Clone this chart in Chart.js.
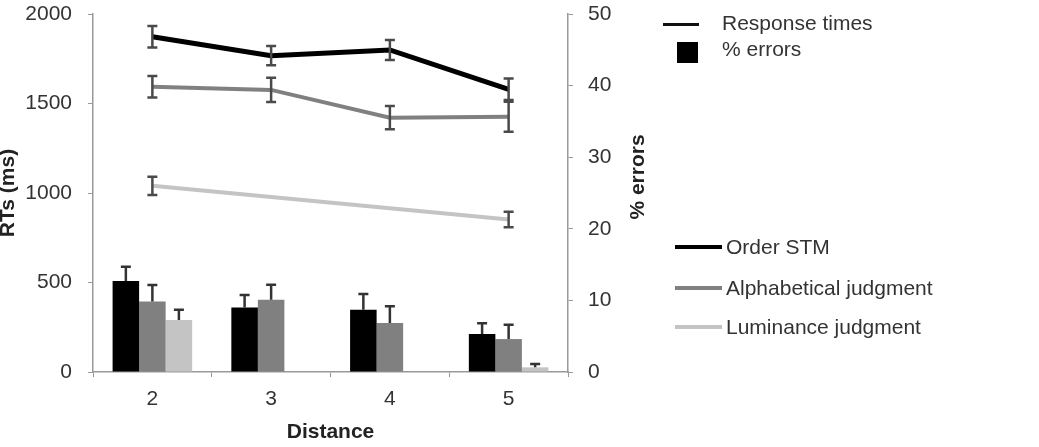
<!DOCTYPE html>
<html>
<head>
<meta charset="utf-8">
<script src="https://cdn.jsdelivr.net/npm/chart.js@4.4.1/dist/chart.umd.min.js"></script>
<style>
  body { margin: 0; background: #fff; }
  #wrap { position: relative; width: 1039px; height: 447px; font-family: "Liberation Sans", Arial, sans-serif; color: #333; }
  #grafico { position: absolute; left: 0; top: 0; }
  .txt { position: absolute; font-size: 21px; line-height: 24px; white-space: nowrap; }
  .muestra { position: absolute; }
  #tituloDer { position: absolute; left: 637px; top: 177px; font-size: 21px; font-weight: bold; color: #222;
               transform: translate(-50%, -50%) rotate(-90deg); white-space: nowrap; }
</style>
</head>
<body>
<div id="wrap">
  <canvas id="grafico" width="1039" height="447"></canvas>
  <div id="tituloDer">% errors</div>

  <div class="muestra" style="left:663px; top:23px; width:36px; height:3px; background:#111;"></div>
  <div class="txt" style="left:722px; top:11px;">Response times</div>
  <div class="muestra" style="left:677px; top:42px; width:21px; height:21px; background:#000;"></div>
  <div class="txt" style="left:722px; top:37px;">% errors</div>

  <div class="muestra" style="left:675px; top:245px; width:47px; height:4px; background:#000;"></div>
  <div class="txt" style="left:726px; top:235px;">Order STM</div>
  <div class="muestra" style="left:675px; top:286px; width:47px; height:4px; background:#808080;"></div>
  <div class="txt" style="left:726px; top:276px;">Alphabetical judgment</div>
  <div class="muestra" style="left:675px; top:325px; width:47px; height:4px; background:#c4c4c4;"></div>
  <div class="txt" style="left:726px; top:315px;">Luminance judgment</div>
</div>

<script>
// Categorías (distancia)
const distancias = ['2', '3', '4', '5'];

// Tiempos de respuesta (ms) y su error
const rtOrden = [1873, 1767, 1799, 1579];
const rtOrdenErr = [60, 54, 56, 60];
const rtAlfa = [1593, 1576, 1421, 1426];
const rtAlfaErr = [60, 68, 65, 84];
const rtLum = [1040, null, null, 852];
const rtLumErr = [51, null, null, 43];

// Porcentaje de errores y su error
const pctOrden = [12.7, 9.0, 8.7, 5.3];
const pctOrdenErr = [2.0, 1.75, 2.2, 1.5];
const pctAlfa = [9.85, 10.1, 6.85, 4.6];
const pctAlfaErr = [2.3, 2.1, 2.35, 2.0];
const pctLum = [7.25, null, null, 0.65];
const pctLumErr = [1.45, null, null, 0.45];

const fuente = '"Liberation Sans", Arial, sans-serif';
const gris = '#999';

// Barras de error: las líneas llevan bigote arriba y abajo, las barras solo arriba
const barrasError = {
    id: 'barrasError',
    afterDatasetsDraw(chart) {
        const ctx = chart.ctx;
        chart.data.datasets.forEach((ds, i) => {
            if (!ds.errores) return;
            const meta = chart.getDatasetMeta(i);
            const escala = chart.scales[ds.yAxisID];
            ctx.save();
            ctx.strokeStyle = ds.type === 'line' ? '#4a4a4a' : '#333';
            ctx.lineWidth = 2.5;
            meta.data.forEach((el, j) => {
                const v = ds.data[j], e = ds.errores[j];
                if (v == null || e == null) return;
                const x = el.x;
                const yArr = escala.getPixelForValue(v + e);
                const yAba = ds.type === 'line' ? escala.getPixelForValue(v - e) : escala.getPixelForValue(v);
                ctx.beginPath();
                ctx.moveTo(x, yArr); ctx.lineTo(x, yAba);
                ctx.moveTo(x - 5, yArr); ctx.lineTo(x + 5, yArr);
                if (ds.type === 'line') { ctx.moveTo(x - 5, yAba); ctx.lineTo(x + 5, yAba); }
                ctx.stroke();
            });
            ctx.restore();
        });
    }
};

function linea(datos, errores, color, grosor) {
    return {
        type: 'line', data: datos, errores: errores, yAxisID: 'y',
        borderColor: color, borderWidth: grosor, pointRadius: 0,
        spanGaps: true, tension: 0, order: 0
    };
}

function barra(datos, errores, color) {
    return {
        type: 'bar', data: datos, errores: errores, yAxisID: 'y1',
        backgroundColor: color, borderWidth: 0, order: 1
    };
}

// El eje vertical reserva espacio arriba para la etiqueta; lo quitamos y usamos el padding del layout
function ajustarVertical(ancho) {
    return s => { s.width = ancho; s.paddingTop = 0; s.paddingBottom = 0; };
}

new Chart(document.getElementById('grafico').getContext('2d'), {
    type: 'bar',
    data: {
        labels: distancias,
        datasets: [
            linea(rtOrden, rtOrdenErr, '#000', 5),
            linea(rtAlfa, rtAlfaErr, '#808080', 4),
            linea(rtLum, rtLumErr, '#c4c4c4', 4),
            barra(pctOrden, pctOrdenErr, '#000'),
            barra(pctAlfa, pctAlfaErr, '#808080'),
            barra(pctLum, pctLumErr, '#c4c4c4')
        ]
    },
    options: {
        responsive: false,
        animation: false,
        categoryPercentage: 0.67,
        barPercentage: 1.0,
        layout: { padding: { top: 14, left: 0, right: 0, bottom: 0 } },
        plugins: { legend: { display: false }, tooltip: { enabled: false } },
        scales: {
            x: {
                afterFit: s => { s.height = 75; },
                grid: { display: true, drawOnChartArea: false, drawTicks: true, tickLength: 5, color: gris, offset: true },
                border: { display: true, color: gris, width: 1.5 },
                ticks: { color: '#333', padding: 10, font: { family: fuente, size: 21 } },
                title: { display: true, text: 'Distance', color: '#222', padding: { top: 0, bottom: 2 },
                         font: { family: fuente, size: 21, weight: 'bold' } }
            },
            y: {
                position: 'left', min: 0, max: 2000,
                afterFit: ajustarVertical(93),
                grid: { display: true, drawOnChartArea: false, drawTicks: true, tickLength: 5, color: gris },
                border: { display: true, color: gris, width: 1.5 },
                ticks: { stepSize: 500, color: '#333', padding: 16, font: { family: fuente, size: 21 },
                         callback: v => String(v) },
                title: { display: true, text: 'RTs (ms)', color: '#222', padding: { top: -4, bottom: 0 },
                         font: { family: fuente, size: 21, weight: 'bold' } }
            },
            y1: {
                position: 'right', min: 0, max: 50,
                afterFit: ajustarVertical(471),
                grid: { display: true, drawOnChartArea: false, drawTicks: true, tickLength: 5, color: gris },
                border: { display: true, color: gris, width: 1.5 },
                ticks: { stepSize: 10, color: '#333', padding: 15, font: { family: fuente, size: 21 },
                         callback: v => String(v) }
            }
        }
    },
    plugins: [barrasError]
});
</script>
</body>
</html>
